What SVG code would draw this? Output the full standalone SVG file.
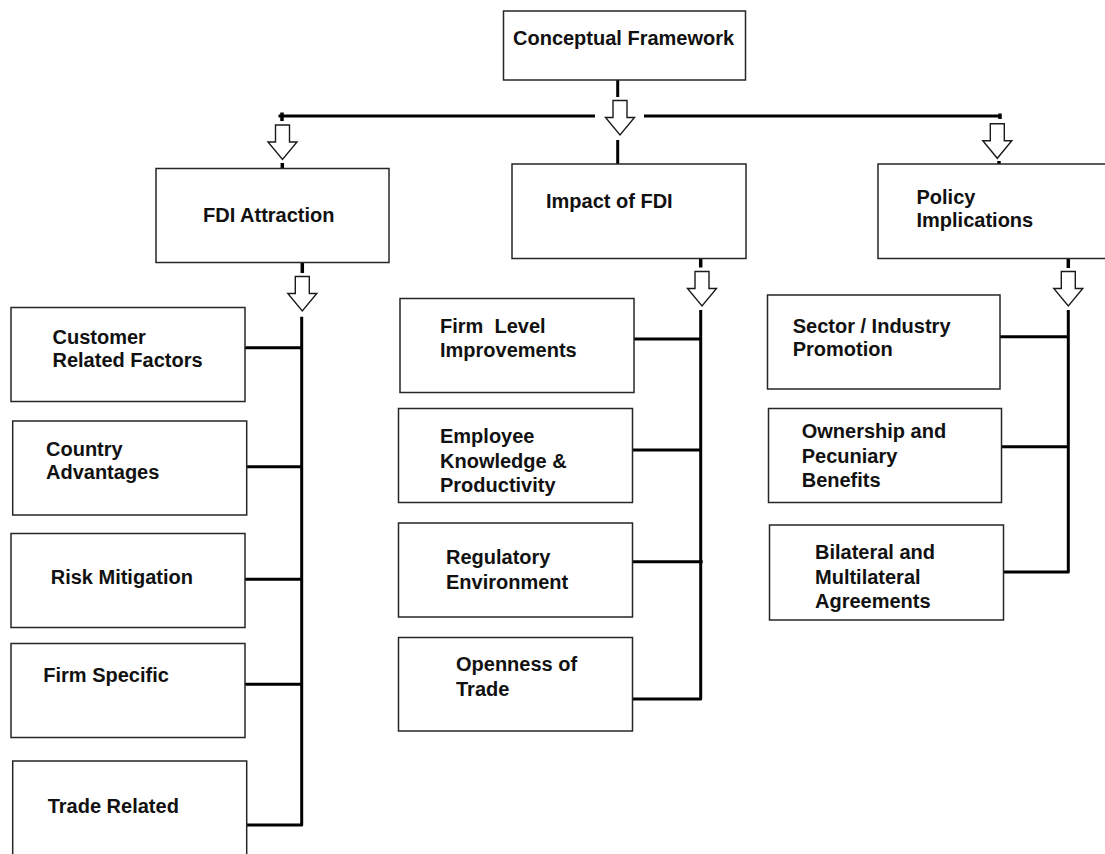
<svg xmlns="http://www.w3.org/2000/svg" xmlns:xlink="http://www.w3.org/1999/xlink" width="1105" height="854" viewBox="0 0 1105 854">
  <style>
    .box { fill: #ffffff; stroke: #262626; stroke-width: 1.5; }
    .label { font-family: "Liberation Sans", Arial, sans-serif; font-weight: bold; font-size: 20px; fill: #111111; white-space: pre; }
    .wire { fill: none; stroke: #000000; stroke-width: 3; stroke-linejoin: round; }
    .tick { fill: none; stroke: #000000; stroke-width: 3.5; }
    .hollow { fill: #ffffff; stroke: #1a1a1a; stroke-width: 1.4; stroke-linejoin: miter; }
  </style>
  <defs>
    <!-- block arrow pointing down, tip at the origin -->
    <path id="blockArrow" class="hollow" d="M -7 -34.5 H 7 V -17.5 H 14.5 L 0 0 L -14.5 -17.5 H -7 Z"/>
  </defs>

  <rect width="1105" height="854" fill="#ffffff"/>

  <!-- connectors -->
  <g id="connectors">
    <!-- root to the three main branches -->
    <path class="wire" d="M 617.7 80 V 97"/>
    <path class="wire" d="M 617.7 140 V 164"/>
    <path class="wire" d="M 278.5 116 H 595"/>
    <path class="wire" d="M 644 116 H 1000"/>
    <path class="tick" d="M 282 112.5 V 121"/>
    <path class="tick" d="M 1000 113.5 V 119"/>
    <path class="tick" d="M 282.3 163 V 170"/>
    <path class="tick" d="M 999 161 V 167"/>
    <use xlink:href="#blockArrow" transform="translate(620 135)"/>
    <use xlink:href="#blockArrow" transform="translate(282.5 159.5)"/>
    <use xlink:href="#blockArrow" transform="translate(997.3 158.3)"/>

    <!-- FDI Attraction branch -->
    <path class="tick" d="M 302.3 262 V 273"/>
    <use xlink:href="#blockArrow" transform="translate(302.3 311)"/>
    <path class="wire" d="M 301.7 316.7 V 825 H 230"/>
    <path class="wire" d="M 242.7 347.7 H 301.7"/>
    <path class="wire" d="M 245 466.7 H 301.7"/>
    <path class="wire" d="M 245 579.3 H 301.7"/>
    <path class="wire" d="M 242.7 684.3 H 301.7"/>

    <!-- Impact of FDI branch -->
    <path class="tick" d="M 700.7 257 V 267.5"/>
    <use xlink:href="#blockArrow" transform="translate(702 306)"/>
    <path class="wire" d="M 700.7 310 V 699 H 632.7"/>
    <path class="wire" d="M 630.7 339 H 700.7"/>
    <path class="wire" d="M 630 450 H 700.7"/>
    <path class="wire" d="M 632.7 561.7 H 702.7"/>

    <!-- Policy Implications branch -->
    <path class="tick" d="M 1068.3 258 V 268"/>
    <use xlink:href="#blockArrow" transform="translate(1068.3 306)"/>
    <path class="wire" d="M 1068.3 310 V 572 H 1002"/>
    <path class="wire" d="M 998 336.7 H 1068.3"/>
    <path class="wire" d="M 1001.7 446.7 H 1068.3"/>
  </g>

  <!-- root -->
  <g id="node-conceptual-framework">
    <rect class="box" x="503.5" y="11" width="242" height="69"/>
    <text class="label" x="513" y="45">Conceptual Framework</text>
  </g>

  <!-- main branches -->
  <g id="node-fdi-attraction">
    <rect class="box" x="156" y="168.5" width="233" height="94"/>
    <text class="label" x="203" y="222">FDI Attraction</text>
  </g>
  <g id="node-impact-of-fdi">
    <rect class="box" x="512" y="164" width="234" height="94.5"/>
    <text class="label" x="546" y="208">Impact of FDI</text>
  </g>
  <g id="node-policy-implications">
    <rect class="box" x="878" y="164" width="240" height="94.5"/>
    <text class="label" x="916.5" y="203.5">Policy</text>
    <text class="label" x="916.5" y="227">Implications</text>
  </g>

  <!-- FDI Attraction items -->
  <g id="node-customer-related-factors">
    <rect class="box" x="11" y="307.5" width="234" height="94"/>
    <text class="label" x="52.5" y="344.3">Customer</text>
    <text class="label" x="52.5" y="366.7">Related Factors</text>
  </g>
  <g id="node-country-advantages">
    <rect class="box" x="12.7" y="421" width="234" height="94"/>
    <text class="label" x="46" y="455.7">Country</text>
    <text class="label" x="46" y="479">Advantages</text>
  </g>
  <g id="node-risk-mitigation">
    <rect class="box" x="11" y="533.5" width="234" height="94"/>
    <text class="label" x="50.7" y="584.3">Risk Mitigation</text>
  </g>
  <g id="node-firm-specific">
    <rect class="box" x="11" y="643.5" width="234" height="94"/>
    <text class="label" x="43.3" y="681.7">Firm Specific</text>
  </g>
  <g id="node-trade-related">
    <rect class="box" x="12.7" y="761" width="234" height="100"/>
    <text class="label" x="47.7" y="813.3">Trade Related</text>
  </g>

  <!-- Impact of FDI items -->
  <g id="node-firm-level-improvements">
    <rect class="box" x="400" y="298.5" width="234" height="94"/>
    <text class="label" x="440" y="332.7">Firm  Level</text>
    <text class="label" x="440" y="357">Improvements</text>
  </g>
  <g id="node-employee-knowledge">
    <rect class="box" x="398.5" y="408.5" width="234" height="94"/>
    <text class="label" x="440" y="442.7">Employee</text>
    <text class="label" x="440" y="467.5">Knowledge &amp;</text>
    <text class="label" x="440" y="491.7">Productivity</text>
  </g>
  <g id="node-regulatory-environment">
    <rect class="box" x="398.5" y="523" width="234" height="94"/>
    <text class="label" x="446" y="564.3">Regulatory</text>
    <text class="label" x="446" y="589.3">Environment</text>
  </g>
  <g id="node-openness-of-trade">
    <rect class="box" x="398.5" y="637.5" width="234" height="93.5"/>
    <text class="label" x="456" y="671">Openness of</text>
    <text class="label" x="456" y="696">Trade</text>
  </g>

  <!-- Policy Implications items -->
  <g id="node-sector-industry-promotion">
    <rect class="box" x="767.5" y="295" width="232.5" height="94"/>
    <text class="label" x="792.7" y="333.3">Sector / Industry</text>
    <text class="label" x="792.7" y="356">Promotion</text>
  </g>
  <g id="node-ownership-pecuniary">
    <rect class="box" x="768.5" y="408.5" width="233" height="94"/>
    <text class="label" x="801.7" y="438.3">Ownership and</text>
    <text class="label" x="801.7" y="462.5">Pecuniary</text>
    <text class="label" x="801.7" y="486.7">Benefits</text>
  </g>
  <g id="node-bilateral-multilateral">
    <rect class="box" x="769.5" y="525" width="234" height="95"/>
    <text class="label" x="815" y="559.3">Bilateral and</text>
    <text class="label" x="815" y="584.3">Multilateral</text>
    <text class="label" x="815" y="608.3">Agreements</text>
  </g>
</svg>
